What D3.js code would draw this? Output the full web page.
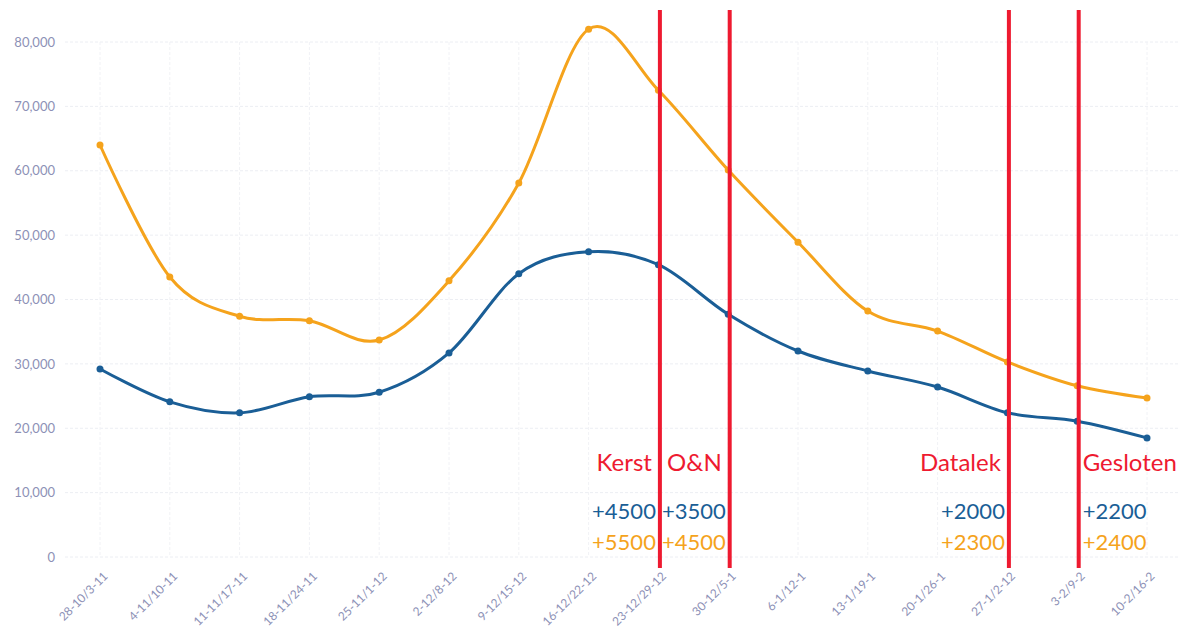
<!DOCTYPE html>
<html>

<head>
    <title>Weekly chart</title>
    <script src="https://d3js.org/d3.v7.min.js"></script>
    <style>
        body { margin: 0; background: #fff; }
    </style>
</head>

<body>
    <svg width="1185" height="632" id="mainSvg"></svg>
    <script>
        // weeks on the x axis
        const weeks = ["28-10/3-11", "4-11/10-11", "11-11/17-11", "18-11/24-11", "25-11/1-12", "2-12/8-12",
            "9-12/15-12", "16-12/22-12", "23-12/29-12", "30-12/5-1", "6-1/12-1", "13-1/19-1",
            "20-1/26-1", "27-1/2-12", "3-2/9-2", "10-2/16-2"];

        // orange series
        const orangeValues = [64000, 43500, 37400, 36700, 33700, 42900, 58100, 82000,
            72500, 60100, 48900, 38200, 35100, 30300, 26600, 24700];

        // blue series
        const blueValues = [29200, 24100, 22400, 24900, 25600, 31700, 44000, 47400,
            45400, 37700, 32000, 28900, 26400, 22400, 21100, 18500];

        const yTicks = [0, 10000, 20000, 30000, 40000, 50000, 60000, 70000, 80000];

        // events marked with red lines
        const eventNames = ["Kerst", "O&N", "Datalek", "Gesloten"];
        const eventWeeks = ["23-12/29-12", "30-12/5-1", "27-1/2-12", "3-2/9-2"];
        const eventBlue = ["+4500", "+3500", "+2000", "+2200"];
        const eventOrange = ["+5500", "+4500", "+2300", "+2400"];

        const orange = "#f5a31c";
        const blue = "#1a5e96";
        const red = "#ee1a30";
        const tickColor = "#8d91b6";

        const svg = d3.select("#mainSvg");

        const xScale = d3.scalePoint()
            .domain(weeks)
            .range([100, 1147]);

        const yScale = d3.scaleLinear()
            .domain([0, 80000])
            .range([557, 42]);

        // faint grid
        const grid = svg.append("g");
        grid.selectAll(".hgrid").data(yTicks).join("line")
            .attr("x1", 65).attr("x2", 1180)
            .attr("y1", d => yScale(d)).attr("y2", d => yScale(d))
            .attr("stroke", "#eceef3")
            .attr("stroke-dasharray", "3,2");
        grid.selectAll(".vgrid").data(weeks).join("line")
            .attr("x1", d => xScale(d)).attr("x2", d => xScale(d))
            .attr("y1", 42).attr("y2", 557)
            .attr("stroke", "#f1f2f6")
            .attr("stroke-dasharray", "3,2");

        // y axis
        const yAxis = d3.axisLeft(yScale)
            .tickValues(yTicks)
            .tickFormat(d3.format(","))
            .tickSize(0)
            .tickPadding(0);
        const yAxisGroup = svg.append("g")
            .attr("transform", "translate(55,0)")
            .call(yAxis);
        yAxisGroup.select(".domain").remove();
        yAxisGroup.selectAll(".tick text")
            .attr("font-family", "Lato, 'Open Sans', sans-serif")
            .attr("font-size", 13)
            .attr("fill", tickColor);

        // x axis
        const xAxis = d3.axisBottom(xScale).tickSize(0).tickPadding(0);
        const xAxisGroup = svg.append("g")
            .attr("transform", "translate(0,574)")
            .call(xAxis);
        xAxisGroup.select(".domain").remove();
        xAxisGroup.selectAll(".tick text")
            .attr("font-family", "Lato, 'Open Sans', sans-serif")
            .attr("font-size", 12)
            .attr("fill", tickColor)
            .attr("text-anchor", "end")
            .attr("dy", "0.35em")
            .attr("transform", "translate(5,0) rotate(-45)");

        // lines
        const line = d3.line()
            .x((d, i) => xScale(weeks[i]))
            .y(d => yScale(d))
            .curve(d3.curveCardinal.tension(0));

        [[orangeValues, orange], [blueValues, blue]].forEach(([vals, col]) => {
            svg.append("path")
                .datum(vals)
                .attr("d", line)
                .attr("fill", "none")
                .attr("stroke", col)
                .attr("stroke-width", 3);
            svg.append("g").selectAll("circle").data(vals).join("circle")
                .attr("cx", (d, i) => xScale(weeks[i]))
                .attr("cy", d => yScale(d))
                .attr("r", 3.5)
                .attr("fill", col);
        });

        // event lines and labels
        const events = eventNames.map((name, i) => ({
            name: name, week: eventWeeks[i], blue: eventBlue[i], orange: eventOrange[i],
            last: i === eventNames.length - 1
        }));

        const ev = svg.append("g").selectAll("g").data(events).join("g")
            .attr("transform", d => `translate(${xScale(d.week) + 1.5},0)`);

        ev.append("line")
            .attr("x1", 0).attr("x2", 0)
            .attr("y1", 10).attr("y2", 568)
            .attr("stroke", red)
            .attr("stroke-width", 4);

        const label = (sel, key, y, col, size, gap) => sel.append("text")
            .attr("x", d => d.last ? 4 : -gap)
            .attr("y", y)
            .attr("text-anchor", d => d.last ? "start" : "end")
            .attr("font-family", "Lato, 'Open Sans', sans-serif")
            .attr("font-size", size)
            .attr("fill", col)
            .text(d => d[key]);

        label(ev, "name", 471, red, 24, 8);
        label(ev, "blue", 519, blue, 22, 4);
        label(ev, "orange", 550, orange, 22, 4);
    </script>
</body>

</html>
